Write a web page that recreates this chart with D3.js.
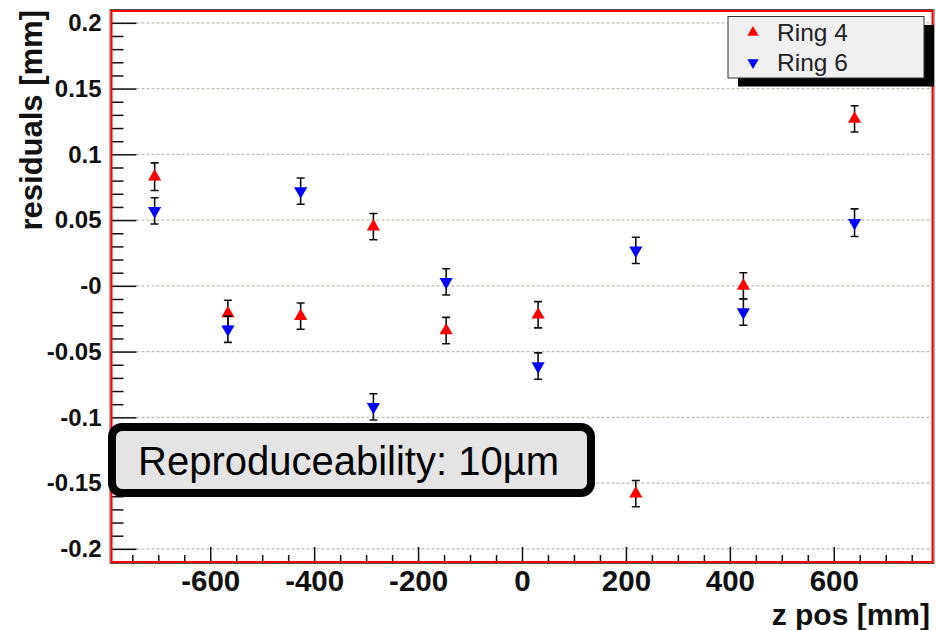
<!DOCTYPE html>
<html>
<head>
<meta charset="utf-8">
<script src="https://cdn.jsdelivr.net/npm/d3@7"></script>
<style>
  body { margin: 0; background: #fff; }
  svg { display: block; font-family: "Liberation Sans", Arial, sans-serif; }
</style>
</head>
<body>
<div id="chart"></div>
<script>
// data
const zPos = [-707, -566, -426, -286, -146, 31, 219, 426, 640];
const ring4 = [0.083, -0.021, -0.023, 0.045, -0.034, -0.022, -0.158, 0.000, 0.127];
const ring4Err = [0.0105, 0.0100, 0.0100, 0.0100, 0.0100, 0.0100, 0.0100, 0.0100, 0.0100];
const ring6 = [0.057, -0.033, 0.072, -0.092, 0.003, -0.061, 0.027, -0.020, 0.048];
const ring6Err = [0.0100, 0.0100, 0.0100, 0.0100, 0.0100, 0.0100, 0.0100, 0.0100, 0.0105];

const yTicks = [-0.2, -0.15, -0.1, -0.05, 0, 0.05, 0.1, 0.15, 0.2];
const yTickLabels = ["-0.2", "-0.15", "-0.1", "-0.05", "-0", "0.05", "0.1", "0.15", "0.2"];
const xTicks = [-600, -400, -200, 0, 200, 400, 600];
const xTickLabels = ["-600", "-400", "-200", "0", "200", "400", "600"];
const seriesNames = ["Ring 4", "Ring 6"];
const seriesColors = ["#ff0000", "#0000ff"];
const noteText = "Reproduceability: 10µm";

// frame of the plot
const frame = { left: 111.5, right: 932.5, top: 11, bottom: 562 };

const svg = d3.select("#chart")
  .append("svg")
    .attr("width", 936)
    .attr("height", 630);

const x = d3.scaleLinear()
  .domain([-790, 790])
  .range([frame.left, frame.right]);

const y = d3.scaleLinear()
  .domain([-0.21, 0.209])
  .range([frame.bottom, frame.top]);

// dashed horizontal grid
svg.append("g")
  .selectAll("line")
  .data(yTicks)
  .join("line")
    .attr("x1", frame.left)
    .attr("x2", frame.right)
    .attr("y1", d => y(d))
    .attr("y2", d => y(d))
    .attr("stroke", "#c4bab0")
    .attr("stroke-width", 1.3)
    .attr("stroke-dasharray", "3,2");

// minor ticks
const yMinor = d3.range(-0.2, 0.2001, 0.01).filter(v => Math.abs(Math.round(v * 100) % 5) !== 0);
const xMinor = d3.range(-750, 751, 50).filter(v => v % 200 !== 0);

svg.append("g")
  .attr("transform", `translate(${frame.left},0)`)
  .call(d3.axisLeft(y).tickValues(yMinor).tickSize(-12).tickFormat(""))
  .call(g => g.select(".domain").remove())
  .selectAll("line").attr("stroke", "#111").attr("stroke-width", 1.5);

svg.append("g")
  .attr("transform", `translate(0,${frame.bottom})`)
  .call(d3.axisBottom(x).tickValues(xMinor).tickSize(-7).tickFormat(""))
  .call(g => g.select(".domain").remove())
  .selectAll("line").attr("stroke", "#111").attr("stroke-width", 1.5);

// major ticks + labels
const yAxis = svg.append("g")
  .attr("transform", `translate(${frame.left},0)`)
  .call(d3.axisLeft(y).tickValues(yTicks).tickSize(-25).tickPadding(10)
    .tickFormat((d, i) => yTickLabels[i]))
  .call(g => g.select(".domain").remove());
yAxis.selectAll("line").attr("stroke", "#111").attr("stroke-width", 1.5);
yAxis.selectAll("text")
  .attr("font-family", "'Liberation Sans', Arial, sans-serif")
  .attr("font-size", 24)
  .attr("font-weight", "bold")
  .attr("fill", "#111");

const xAxis = svg.append("g")
  .attr("transform", `translate(0,${frame.bottom})`)
  .call(d3.axisBottom(x).tickValues(xTicks).tickSize(-15).tickPadding(8)
    .tickFormat((d, i) => xTickLabels[i]))
  .call(g => g.select(".domain").remove());
xAxis.selectAll("line").attr("stroke", "#111").attr("stroke-width", 1.5);
xAxis.selectAll("text")
  .attr("font-family", "'Liberation Sans', Arial, sans-serif")
  .attr("font-size", 29.5)
  .attr("font-weight", "bold")
  .attr("fill", "#111");

// axis titles
svg.append("text")
  .attr("transform", "translate(42,10) rotate(-90)")
  .attr("text-anchor", "end")
  .attr("font-size", 31)
  .attr("font-weight", "bold")
  .attr("fill", "#111")
  .text("residuals [mm]");

svg.append("text")
  .attr("x", 930)
  .attr("y", 625)
  .attr("text-anchor", "end")
  .attr("font-size", 30)
  .attr("font-weight", "bold")
  .attr("fill", "#111")
  .text("z pos [mm]");

// points with error bars
const series = [
  { name: seriesNames[0], values: ring4, errs: ring4Err, color: seriesColors[0], rot: 0 },
  { name: seriesNames[1], values: ring6, errs: ring6Err, color: seriesColors[1], rot: 180 }
];
const tri = d3.symbol().type(d3.symbolTriangle).size(75);

series.forEach(s => {
  const pts = zPos.map((z, i) => ({ z: z, v: s.values[i], e: s.errs[i] }));
  const g = svg.append("g");
  g.selectAll(".bar")
    .data(pts)
    .join("path")
      .attr("d", d => {
        const cx = x(d.z), y1 = y(d.v + d.e), y2 = y(d.v - d.e);
        return `M${cx},${y1}V${y2}M${cx - 4},${y1}H${cx + 4}M${cx - 4},${y2}H${cx + 4}`;
      })
      .attr("stroke", "#111")
      .attr("stroke-width", 1.6)
      .attr("fill", "none");
  g.selectAll(".mark")
    .data(pts)
    .join("path")
      .attr("d", tri)
      .attr("transform", d => `translate(${x(d.z)},${y(d.v)}) rotate(${s.rot})`)
      .attr("fill", s.color);
});

// frame
svg.append("rect")
  .attr("x", frame.left - 1.5)
  .attr("y", frame.top - 1.5)
  .attr("width", frame.right - frame.left + 3)
  .attr("height", frame.bottom - frame.top + 3)
  .attr("fill", "none")
  .attr("stroke", "#555")
  .attr("stroke-width", 1);
svg.append("rect")
  .attr("x", frame.left)
  .attr("y", frame.top)
  .attr("width", frame.right - frame.left)
  .attr("height", frame.bottom - frame.top)
  .attr("fill", "none")
  .attr("stroke", "#ff0000")
  .attr("stroke-width", 2);

// legend with shadow
const lg = { x: 728, y: 16.5, w: 196, h: 61.5 };
svg.append("rect")
  .attr("x", lg.x + 10).attr("y", lg.y + 8.5)
  .attr("width", lg.w).attr("height", lg.h)
  .attr("fill", "#000");
svg.append("rect")
  .attr("x", lg.x).attr("y", lg.y)
  .attr("width", lg.w).attr("height", lg.h)
  .attr("fill", "#f0f0f0")
  .attr("stroke", "#333")
  .attr("stroke-width", 1);
series.forEach((s, i) => {
  const cy = lg.y + 16 + i * 30;
  svg.append("path")
    .attr("d", d3.symbol().type(d3.symbolTriangle).size(55)())
    .attr("transform", `translate(753,${cy}) rotate(${s.rot})`)
    .attr("fill", s.color);
  svg.append("text")
    .attr("x", 777)
    .attr("y", cy + 8.5)
    .attr("font-size", 24.5)
    .attr("fill", "#222")
    .text(s.name);
});

// annotation box
svg.append("rect")
  .attr("x", 112).attr("y", 427)
  .attr("width", 479).attr("height", 66)
  .attr("rx", 10)
  .attr("fill", "#e4e4e4")
  .attr("stroke", "#000")
  .attr("stroke-width", 8);
svg.append("text")
  .attr("x", 138)
  .attr("y", 475)
  .attr("font-size", 40)
  .attr("fill", "#000")
  .text(noteText);
</script>
</body>
</html>
